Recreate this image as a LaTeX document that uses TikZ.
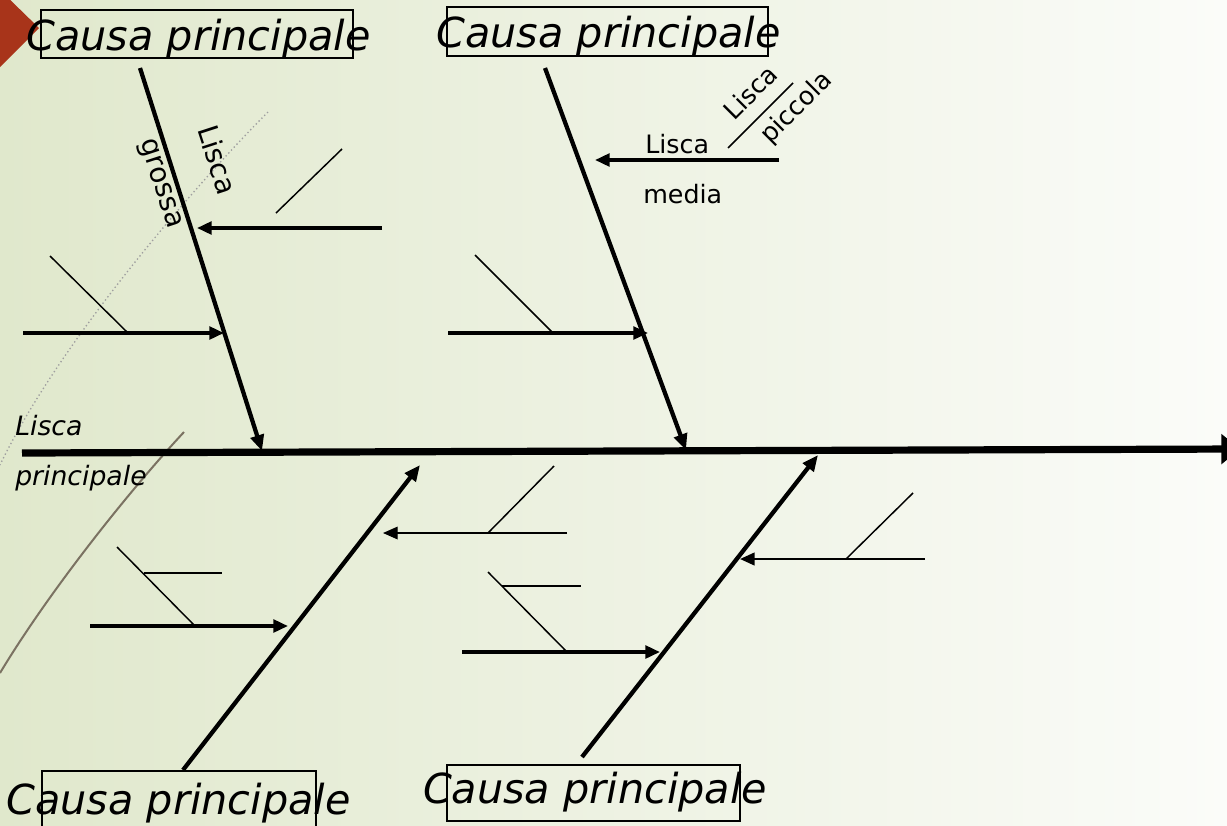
\documentclass[tikz,border=0pt]{standalone}
\usepackage{fontspec}
\setmainfont{DejaVu Sans}
\usetikzlibrary{arrows.meta}
\definecolor{slidebg}{HTML}{E0E8CC}
\definecolor{slidebg2}{HTML}{FBFCF9}
\definecolor{corner}{HTML}{A8341A}
\definecolor{swoosh}{HTML}{7B7262}

\begin{document}
\begin{tikzpicture}[
  x=0.75pt, y=-0.75pt,
  every node/.style={font=\fontsize{19}{21}\selectfont, inner sep=0pt},
  arrowed/.style={-{Triangle[length=11pt,width=9.5pt]}},
  spine/.style={line width=5.4pt, -{Triangle[length=14pt,width=22pt]}},
  bone/.style={line width=3.2pt, -{Triangle[length=12pt,width=10pt]}},
  rib/.style={line width=2.6pt, arrowed},
  twig/.style={line width=1.1pt},
  causetext/.style={font=\fontsize{31}{34}\selectfont\itshape, anchor=base},
  causebox/.style={draw, line width=0.9pt, inner sep=0pt}
]
  \useasboundingbox (0,0) rectangle (1227,825);
  \clip (0,0) rectangle (1227,825);

  % slide background
  \shade[left color=slidebg, right color=slidebg2] (0,0) rectangle (1227,825);
  \fill[corner] (0,-10) -- (39,28) -- (0,67) -- cycle;
  \draw[gray!75, dotted, line width=1pt]
    (268,112) .. controls (200,180) and (60,340) .. (0,465);
  \draw[swoosh, line width=1.5pt]
    (184,432) .. controls (130,490) and (50,590) .. (0,673);

  % spine and the four main bones
  \coordinate (spineL) at (22,453);
  \coordinate (spineR) at (1240,449);
  \foreach \n/\x/\y in {tailA/140/68, headA/262/451, tailB/545/68, headB/686/450,
                        tailC/183/770, headC/420/465, tailD/582/757, headD/818/455}
    \coordinate (\n) at (\x,\y);
  \draw[spine] (spineL) -- (spineR);
  \foreach \t/\h in {tailA/headA, tailB/headB, tailC/headC, tailD/headD}
    \draw[bone] (\t) -- (\h);

  % medium bones (arrows onto the main bones)
  \foreach \n/\x/\y in {ribA1s/382/228, ribA1e/197/228, ribA2s/23/333, ribA2e/224/333,
                        ribB1s/779/160, ribB1e/595/160, ribB2s/448/333, ribB2e/648/333,
                        ribC1s/90/626, ribC1e/288/626, ribD1s/462/652, ribD1e/660/652,
                        ribD0s/567/533, ribD0e/383/533, ribD2s/925/559, ribD2e/740/559}
    \coordinate (\n) at (\x,\y);
  \foreach \s/\e in {ribA1s/ribA1e, ribA2s/ribA2e, ribB1s/ribB1e, ribB2s/ribB2e,
                     ribC1s/ribC1e, ribD1s/ribD1e}
    \draw[rib] (\s) -- (\e);
  \draw[arrowed, line width=0.9pt] (ribD0s) -- (ribD0e);
  \draw[arrowed, line width=1.7pt] (ribD2s) -- (ribD2e);

  % small bones
  \foreach \n/\x/\y in {twA1a/276/213, twA1b/342/149, twA2a/50/256, twA2b/128/333,
                        twB1a/728/148, twB1b/793/83, twB2a/475/255, twB2b/553/333,
                        twC1a/117/547, twC1b/195/626, twC2a/144/573, twC2b/222/573,
                        twD0a/488/533, twD0b/554/466, twD1a/488/572, twD1b/567/652,
                        twD2a/502/586, twD2b/581/586, twD3a/846/559, twD3b/913/493}
    \coordinate (\n) at (\x,\y);
  \foreach \a/\b in {twA1a/twA1b, twA2a/twA2b, twB1a/twB1b, twB2a/twB2b, twC1a/twC1b,
                     twC2a/twC2b, twD0a/twD0b, twD1a/twD1b, twD2a/twD2b, twD3a/twD3b}
    \draw[twig] (\a) -- (\b);

  % cause boxes
  \node[causebox, minimum width=234pt, minimum height=36pt] (boxA) at (197,34) {};
  \node[causebox, minimum width=240.75pt, minimum height=36.75pt] (boxB) at (607.5,31.5) {};
  \node[causebox, minimum width=205.5pt, minimum height=48pt] (boxC) at (179,803) {};
  \node[causebox, minimum width=219.75pt, minimum height=42pt] (boxD) at (593.5,793) {};
  \node[causetext] (causeA) at (198.5,50) {Causa principale};
  \node[causetext] (causeB) at (608.5,47) {Causa principale};
  \node[causetext] (causeC) at (178.5,814) {Causa principale};
  \node[causetext] (causeD) at (595,803) {Causa principale};

  % bone labels
  \node[anchor=base west, font=\fontsize{20}{22}\selectfont\itshape] (mainA) at (15,435) {Lisca};
  \node[anchor=base west, font=\fontsize{20}{22}\selectfont\itshape] (mainB) at (15,485) {principale};
  \node[rotate=-72, font=\fontsize{21}{23}\selectfont] (bigA) at (218,160) {Lisca};
  \node[rotate=-72, font=\fontsize{21}{23}\selectfont] (bigB) at (159,184) {grossa};
  \node[anchor=base west] (medA) at (645,153) {Lisca};
  \node[anchor=base west] (medB) at (643,203) {media};
  \node[rotate=45] (smallA) at (750,92) {Lisca};
  \node[rotate=45] (smallB) at (797,108) {piccola};
\end{tikzpicture}
\end{document}
